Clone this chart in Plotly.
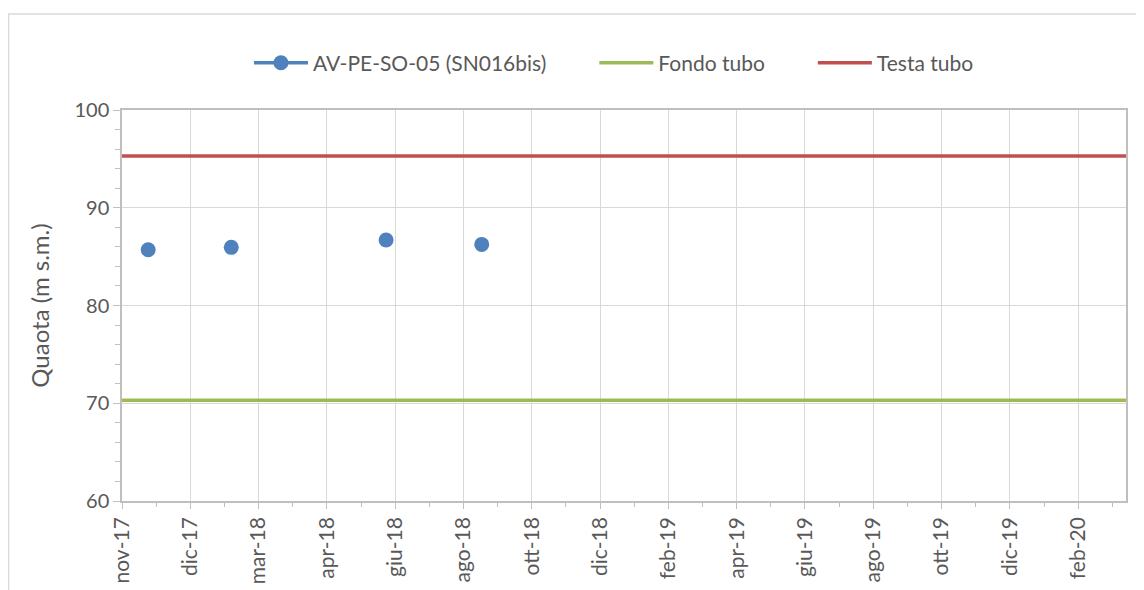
import plotly.graph_objects as go

# Letture piezometriche (date di misura e quota in m s.m.)
date_misure = ["2017-11-24", "2018-02-05", "2018-06-21", "2018-09-13"]
quota_misure = [85.7, 85.95, 86.7, 86.25]

# Riferimenti del tubo
periodo = ["2017-11-01", "2020-04-01"]
fondo_tubo = [70.3, 70.3]
testa_tubo = [95.3, 95.3]

# Etichette asse x (passo 60 giorni, come in Excel)
tick_date = ["2017-11-01", "2017-12-31", "2018-03-01", "2018-04-30", "2018-06-29",
             "2018-08-28", "2018-10-27", "2018-12-26", "2019-02-24", "2019-04-25",
             "2019-06-24", "2019-08-23", "2019-10-22", "2019-12-21", "2020-02-19"]
tick_testo = ["nov-17", "dic-17", "mar-18", "apr-18", "giu-18", "ago-18", "ott-18",
              "dic-18", "feb-19", "apr-19", "giu-19", "ago-19", "ott-19", "dic-19", "feb-20"]

FONT = "Lato"
GRIGIO = "#595959"
SP = "\u00a0" * 8  # spazio tra le voci della legenda

# punti non collegati: celle vuote tra una misura e l'altra
x_pt, y_pt = [], []
for d, q in zip(date_misure, quota_misure):
    x_pt += [d, None]
    y_pt += [q, None]

fig = go.Figure()

fig.add_trace(go.Scatter(
    x=x_pt, y=y_pt, mode="lines+markers", name="AV-PE-SO-05 (SN016bis)" + SP,
    line=dict(color="#4F81BD", width=3.5), connectgaps=False,
    marker=dict(color="#4F81BD", size=15)
))
fig.add_trace(go.Scatter(
    x=periodo, y=fondo_tubo, mode="lines", name="Fondo tubo" + SP,
    line=dict(color="#9BBB59", width=3.5)
))
fig.add_trace(go.Scatter(
    x=periodo, y=testa_tubo, mode="lines", name="Testa tubo",
    line=dict(color="#C0504D", width=3.5)
))

# la pagina html ha un margine di 8px: il grafico è spostato di conseguenza
fig.update_layout(
    width=1144, height=590,
    margin=dict(l=114, r=26, t=102, b=97),
    paper_bgcolor="white", plot_bgcolor="white",
    font=dict(family=FONT, size=18, color=GRIGIO),
    showlegend=True,
    legend=dict(orientation="h", x=0.49, xanchor="center", y=1.12, yanchor="middle",
                font=dict(size=21, color=GRIGIO), itemwidth=54),
    # cornice esterna del grafico
    shapes=[dict(type="rect", xref="paper", yref="paper",
                 x0=-0.113, x1=1.04, y0=-0.26, y1=1.2455,
                 line=dict(color="#d9d9d9", width=1.5), layer="below")],
)

fig.update_xaxes(
    type="date", range=periodo, automargin=False,
    tickmode="array", tickvals=tick_date, ticktext=tick_testo, tickangle=-90,
    ticks="outside", ticklen=6, tickcolor="#bfbfbf",
    minor=dict(ticks="outside", ticklen=4, tickcolor="#bfbfbf",
               tick0="2017-12-01", dtick=60 * 86400000, showgrid=False),
    showgrid=True, gridcolor="#d9d9d9", gridwidth=1,
    showline=True, linecolor="#bfbfbf", linewidth=1.5, mirror=True,
    tickfont=dict(size=21, color=GRIGIO),
)
fig.update_yaxes(
    range=[60, 100], dtick=10, tick0=60, automargin=False,
    ticks="outside", ticklen=7, tickcolor="#bfbfbf",
    minor=dict(ticks="outside", ticklen=5, tickcolor="#bfbfbf", dtick=2, showgrid=False),
    showgrid=True, gridcolor="#d9d9d9", gridwidth=1,
    showline=True, linecolor="#bfbfbf", linewidth=1.5, mirror=True,
    tickfont=dict(size=20, color=GRIGIO),
    title=dict(text="Quaota (m s.m.)", font=dict(size=24, color=GRIGIO), standoff=18),
    zeroline=False,
)

fig.write_html("out.html")
